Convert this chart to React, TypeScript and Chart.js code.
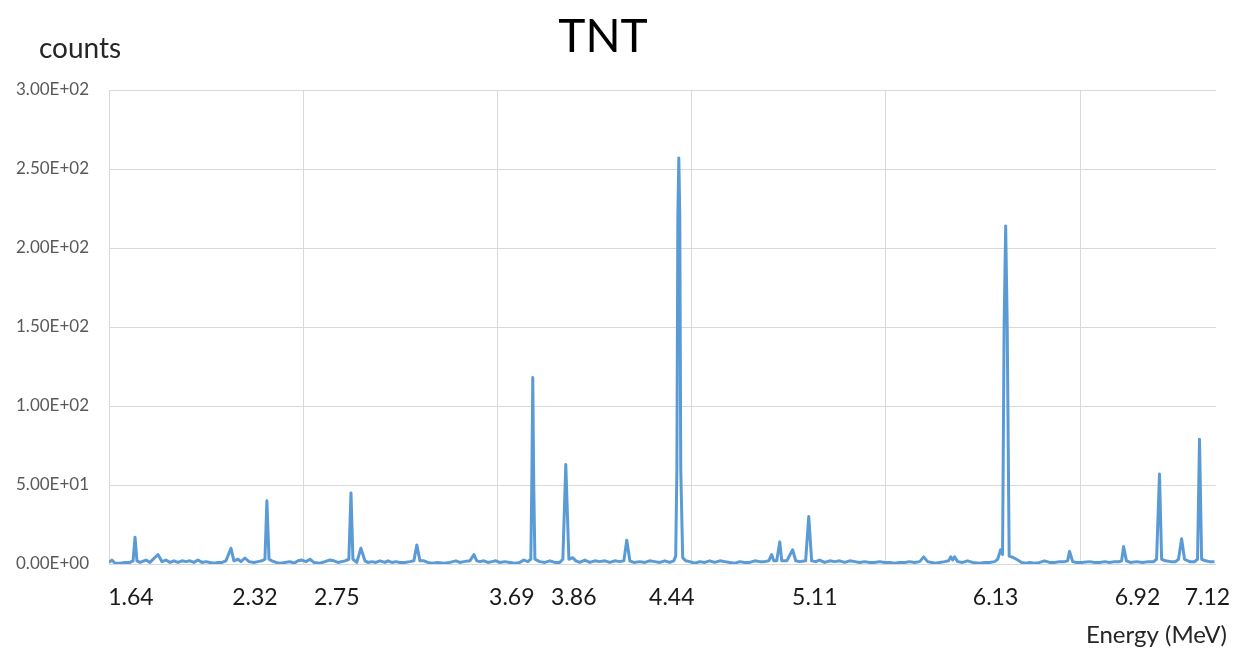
import React, { useEffect, useRef } from 'react';
import { Chart, registerables } from 'chart.js';

Chart.register(...registerables);

// Energy (MeV) of each spectrum sample
const energy: number[] = [
  1.500, 1.515, 1.531, 1.557, 1.582, 1.608, 1.624, 1.634, 1.644, 1.660,
  1.690, 1.711, 1.752, 1.773, 1.793, 1.814, 1.835, 1.855, 1.876, 1.896,
  1.917, 1.937, 1.958, 1.979, 1.999, 2.020, 2.040, 2.061, 2.082, 2.102,
  2.128, 2.143, 2.164, 2.179, 2.200, 2.221, 2.246, 2.267, 2.287, 2.303,
  2.313, 2.324, 2.339, 2.360, 2.380, 2.406, 2.432, 2.452, 2.473, 2.493,
  2.514, 2.535, 2.555, 2.586, 2.612, 2.637, 2.658, 2.679, 2.715, 2.735,
  2.746, 2.756, 2.776, 2.797, 2.818, 2.833, 2.854, 2.874, 2.895, 2.921,
  2.936, 2.957, 2.977, 2.998, 3.023, 3.049, 3.070, 3.085, 3.101, 3.121,
  3.142, 3.162, 3.193, 3.224, 3.255, 3.286, 3.307, 3.327, 3.358, 3.379,
  3.394, 3.409, 3.430, 3.451, 3.471, 3.492, 3.512, 3.538, 3.564, 3.590,
  3.615, 3.636, 3.657, 3.672, 3.677, 3.682, 3.687, 3.693, 3.718, 3.744,
  3.770, 3.796, 3.821, 3.837, 3.852, 3.868, 3.888, 3.904, 3.924, 3.950,
  3.976, 4.001, 4.027, 4.053, 4.079, 4.104, 4.130, 4.151, 4.166, 4.182,
  4.202, 4.233, 4.259, 4.284, 4.310, 4.336, 4.362, 4.387, 4.408, 4.418,
  4.424, 4.429, 4.434, 4.439, 4.444, 4.454, 4.470, 4.490, 4.516, 4.542,
  4.568, 4.593, 4.619, 4.645, 4.671, 4.696, 4.722, 4.748, 4.773, 4.799,
  4.825, 4.851, 4.876, 4.897, 4.912, 4.923, 4.938, 4.954, 4.964, 4.990,
  5.020, 5.036, 5.057, 5.087, 5.103, 5.118, 5.139, 5.159, 5.185, 5.211,
  5.237, 5.262, 5.288, 5.314, 5.340, 5.365, 5.391, 5.417, 5.442, 5.468,
  5.494, 5.520, 5.545, 5.571, 5.597, 5.623, 5.648, 5.674, 5.695, 5.715,
  5.736, 5.756, 5.777, 5.803, 5.823, 5.834, 5.844, 5.854, 5.870, 5.895,
  5.921, 5.947, 5.983, 6.009, 6.034, 6.060, 6.076, 6.091, 6.101, 6.109,
  6.117, 6.125, 6.135, 6.158, 6.179, 6.199, 6.220, 6.240, 6.266, 6.292,
  6.317, 6.343, 6.369, 6.395, 6.420, 6.436, 6.446, 6.462, 6.482, 6.508,
  6.549, 6.575, 6.601, 6.626, 6.652, 6.678, 6.703, 6.714, 6.724, 6.739,
  6.760, 6.791, 6.822, 6.853, 6.879, 6.894, 6.909, 6.920, 6.940, 6.966,
  6.992, 7.007, 7.023, 7.038, 7.064, 7.090, 7.105, 7.115, 7.126, 7.146,
  7.167, 7.192,
];

// Counts for each sample
const counts: number[] = [
  1, 2.5, 0.5, 0.5, 1, 1, 2, 17, 2, 1,
  2.5, 1, 6, 1.5, 2.5, 1, 2, 1, 2, 1.5,
  2, 1, 2.5, 1, 1.5, 1, 0.5, 1, 1, 2,
  10, 2, 3, 1.5, 3.8, 1.5, 1, 1.5, 2, 3,
  40, 3, 2, 1, 0.5, 1, 1.5, 0.5, 2, 2.5,
  1.5, 3, 1, 0.5, 1.5, 2.5, 2, 1, 2, 3,
  45, 3, 1, 10, 2, 1, 1.5, 1, 2, 1,
  2, 1, 1.5, 1, 1, 1.5, 2, 12, 2, 2,
  1, 0.5, 1, 0.5, 1, 2, 1, 1.5, 2, 6,
  2, 1.5, 2, 1, 1.5, 2, 1, 1.5, 1, 0.5,
  1, 2.5, 1.5, 3, 50, 118, 50, 3, 1.5, 1,
  2, 1, 1, 3, 63, 3, 4, 2, 1, 2.5,
  1, 2, 1.5, 2, 1, 2, 1.5, 2, 15, 2,
  1, 1.5, 1, 2, 1.5, 1, 2, 1, 2, 5,
  60, 220, 257, 220, 60, 4, 2, 1.5, 0.5, 1.5,
  1, 2, 1, 2, 1.5, 1, 0.5, 1.5, 1, 1,
  2, 1.5, 1.5, 2, 6, 2, 2, 14, 2, 2,
  9, 2, 1.5, 2, 30, 2, 1.5, 2.5, 1, 2,
  1.5, 2, 1, 2, 1.5, 1, 1.5, 1, 1, 1.5,
  1, 1, 0.5, 1, 1, 1.5, 1, 1.5, 4.5, 1.5,
  1, 0.5, 1, 1.5, 2, 4.5, 2.5, 4.5, 1.5, 1,
  2, 1, 0.5, 1, 1, 1.5, 3, 9, 6, 150,
  214, 150, 5, 4, 2.5, 1, 0.5, 1, 0.5, 1,
  2, 1, 1, 1.5, 1.5, 2, 8, 1.5, 1, 1,
  1.5, 1, 1, 1.5, 1, 1.5, 1.5, 2, 11, 2,
  1, 1.5, 1, 1.5, 1.5, 3, 57, 3, 2, 1.5,
  1.5, 3, 16, 3, 1.5, 1.5, 3, 79, 3, 2,
  1.5, 1.5,
];

// Peak labels under the x axis and where they sit on the energy axis
const peakLabels: string[] = ['1.64', '2.32', '2.75', '3.69', '3.86', '4.44', '5.11', '6.13', '6.92', '7.12'];
const peakLabelAt: number[] = [1.613, 2.251, 2.673, 3.574, 3.893, 4.398, 5.134, 6.065, 6.796, 7.156];

// Vertical gridlines (MeV)
const gridEnergies: number[] = [1.5, 2.5, 3.5, 4.5, 5.5, 6.5];

const title = 'TNT';
const yTitle = 'counts';
const xTitle = 'Energy (MeV)';

const FONT = 'Lato, "Open Sans", sans-serif';

const sciFmt = (v: number) => {
  const [m, e] = v.toExponential(2).split('e');
  const n = parseInt(e, 10);
  return m.toUpperCase() + 'E' + (n < 0 ? '-' : '+') + String(Math.abs(n)).padStart(2, '0');
};

export default function App() {
  const ref = useRef<HTMLCanvasElement | null>(null);

  useEffect(() => {
    if (!ref.current) return;
    const textPlugin = {
      id: 'texts',
      afterDraw(chart: any) {
        const { ctx, chartArea } = chart;
        ctx.save();
        ctx.fillStyle = '#000000';
        ctx.textBaseline = 'alphabetic';
        ctx.font = `46px ${FONT}`;
        ctx.textAlign = 'center';
        ctx.fillText(title, 603, chartArea.top - 38);
        ctx.fillStyle = '#262626';
        ctx.font = `28px ${FONT}`;
        ctx.textAlign = 'left';
        ctx.fillText(yTitle, 39, chartArea.top - 32);
        ctx.font = `24px ${FONT}`;
        ctx.textAlign = 'right';
        ctx.fillText(xTitle, 1227, chartArea.bottom + 79);
        ctx.restore();
      },
    };

    const chart = new Chart(ref.current, {
      type: 'line',
      data: {
        datasets: [
          {
            data: energy.map((e, i) => ({ x: e, y: counts[i] })),
            borderColor: '#5B9BD5',
            borderWidth: 3,
            pointRadius: 0,
            tension: 0,
            borderJoinStyle: 'round',
            xAxisID: 'x',
            yAxisID: 'y',
          },
        ],
      },
      options: {
        animation: false,
        responsive: false,
        maintainAspectRatio: false,
        layout: { padding: { top: 90, right: 24, left: 0, bottom: 0 } },
        plugins: { legend: { display: false }, tooltip: { enabled: false }, title: { display: false } },
        scales: {
          x: {
            type: 'linear',
            position: 'bottom',
            min: 1.5,
            max: 7.2,
            afterBuildTicks: (s: any) => {
              s.ticks = gridEnergies.map((v) => ({ value: v }));
            },
            ticks: { display: false },
            grid: { color: '#d9d9d9', lineWidth: 1, drawTicks: false },
            border: { display: false },
            afterFit: (s: any) => {
              s.height = 0;
              s.paddingLeft = 0;
              s.paddingRight = 0;
            },
          },
          xl: {
            type: 'linear',
            position: 'bottom',
            min: 1.5,
            max: 7.2,
            afterBuildTicks: (s: any) => {
              s.ticks = peakLabelAt.map((v) => ({ value: v }));
            },
            ticks: {
              autoSkip: false,
              maxRotation: 0,
              padding: 20,
              color: '#1a1a1a',
              font: { family: FONT, size: 23 },
              callback: (_v: any, i: number) => peakLabels[i],
            },
            grid: { display: false, drawTicks: false },
            border: { display: false },
            afterFit: (s: any) => {
              s.height = 85;
              s.paddingLeft = 0;
              s.paddingRight = 0;
            },
          },
          y: {
            min: 0,
            max: 300,
            ticks: {
              stepSize: 50,
              padding: 20,
              color: '#595959',
              font: { family: FONT, size: 17 },
              callback: (v: any) => sciFmt(Number(v)),
            },
            grid: { color: '#d9d9d9', lineWidth: 1, drawTicks: false },
            border: { display: false },
            afterFit: (s: any) => {
              s.width = 109;
            },
          },
        },
      },
      plugins: [textPlugin],
    } as any);
    return () => chart.destroy();
  }, []);

  return (
    <div style={{ position: 'fixed', left: 0, top: 0, width: 1240, height: 649, background: '#fff' }}>
      <canvas ref={ref} width={1240} height={649} style={{ width: 1240, height: 649, display: 'block' }} />
    </div>
  );
}
